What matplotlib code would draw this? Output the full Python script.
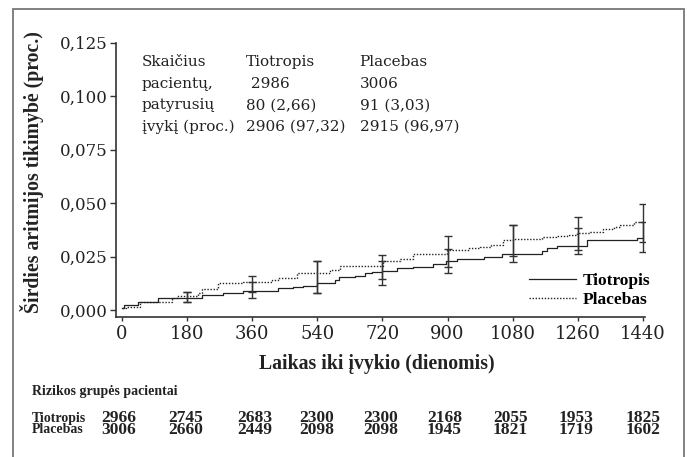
import matplotlib
matplotlib.use('Agg')
import matplotlib.pyplot as plt
from matplotlib.patches import Rectangle
import numpy as np

# Kaplan-Meier style step data (day, cumulative probability)
tio_days = [0, 5, 45, 100, 220, 280, 335, 432, 473, 500, 540, 589, 600, 644, 672, 690, 718, 759,
            805, 860, 895, 925, 1000, 1050, 1160, 1174, 1201, 1284, 1424, 1440]
tio_vals = [0.0010, 0.0026, 0.0040, 0.0055, 0.0070, 0.0081, 0.0090, 0.0101, 0.0109, 0.0112, 0.0128,
            0.0140, 0.0153, 0.0159, 0.0171, 0.0176, 0.0184, 0.0195, 0.0202, 0.0215, 0.0228, 0.0237,
            0.0250, 0.0262, 0.0277, 0.0289, 0.0300, 0.0328, 0.0335, 0.0335]

pla_days = [0, 10, 50, 138, 151, 210, 220, 265, 335, 414, 432, 483, 575, 602, 722, 768, 805, 897,
            930, 960, 990, 1020, 1053, 1081, 1160, 1200, 1230, 1257, 1294, 1330, 1360, 1376, 1415, 1440]
pla_vals = [0.0008, 0.0015, 0.0039, 0.0055, 0.0065, 0.0078, 0.0097, 0.0125, 0.0132, 0.0140, 0.0151,
            0.0172, 0.0187, 0.0206, 0.0230, 0.0237, 0.0260, 0.0280, 0.0283, 0.0288, 0.0296, 0.0305,
            0.0327, 0.0333, 0.0340, 0.0345, 0.0351, 0.0358, 0.0366, 0.0378, 0.0390, 0.0400, 0.0412,
            0.0412]

# confidence intervals at the marked days
ci_days = [180, 360, 540, 720, 900, 1080, 1260, 1440]
tio_lo = [0.0040, 0.0055, 0.0082, 0.0117, 0.0171, 0.0223, 0.0260, 0.0270]
tio_hi = [0.0086, 0.0132, 0.0230, 0.0230, 0.0284, 0.0397, 0.0382, 0.0410]
pla_lo = [0.0040, 0.0083, 0.0082, 0.0143, 0.0202, 0.0255, 0.0280, 0.0320]
pla_hi = [0.0086, 0.0160, 0.0230, 0.0259, 0.0347, 0.0397, 0.0436, 0.0495]

xticks = [0, 180, 360, 540, 720, 900, 1080, 1260, 1440]
yticks = [0.0, 0.025, 0.05, 0.075, 0.1, 0.125]
ytick_labels = ['0,000', '0,025', '0,050', '0,075', '0,100', '0,125']

# text box in the upper left
info_rows = ['Skaičius', 'pacientų,', 'patyrusių', 'įvykį (proc.)']
info_tio = ['Tiotropis', ' 2986', '80 (2,66)', '2906 (97,32)']
info_pla = ['Placebas', '3006', '91 (3,03)', '2915 (96,97)']

# number at risk table
risk_groups = ['Tiotropis', 'Placebas']
risk_tio = [2966, 2745, 2683, 2300, 2300, 2168, 2055, 1953, 1825]
risk_pla = [3006, 2660, 2449, 2098, 2098, 1945, 1821, 1719, 1602]

W, H = 687, 457
fig = plt.figure(figsize=(W / 100, H / 100), dpi=100)
ax = fig.add_axes([116.2 / W, 1 - 316.7 / H, 528.6 / W, 274.0 / H])

serif = 'DejaVu Serif'
bold = 'Liberation Serif'
dark = '#222222'

ax.step(tio_days, tio_vals, where='post', color=dark, lw=0.9, label='Tiotropis')
ax.step(pla_days, pla_vals, where='post', color=dark, lw=1.0, ls=(0, (1, 1.2)), label='Placebas')

for lo, hi in [(tio_lo, tio_hi), (pla_lo, pla_hi)]:
    lo = np.array(lo)
    hi = np.array(hi)
    mid = (lo + hi) / 2
    ax.errorbar(ci_days, mid, yerr=[mid - lo, hi - mid], fmt='none', ecolor='#333333',
                elinewidth=1.0, capsize=2.6, capthick=1.0)

ax.set_xlim(-16, 1445)
ax.set_ylim(-0.0031, 0.125)
for s in ['top', 'right']:
    ax.spines[s].set_visible(False)
for s in ['left', 'bottom']:
    ax.spines[s].set_linewidth(1.2)
    ax.spines[s].set_color('#333333')

ax.set_xticks(xticks)
ax.set_xticklabels([str(t) for t in xticks], fontfamily=serif, fontsize=13)
ax.set_yticks(yticks)
ax.set_yticklabels(ytick_labels, fontfamily=serif, fontsize=12)
ax.tick_params(axis='y', length=4, width=1, pad=2, color='#333333', labelcolor='#222222')
ax.tick_params(axis='x', length=3, width=1, pad=3, color='#333333', labelcolor='#222222')

# upper-left text block
row_y = [66, 88, 109.5, 131]
for i in range(len(info_rows)):
    y = 1 - row_y[i] / H
    fig.text(141.5 / W, y, info_rows[i], fontfamily=serif, fontsize=11, color='#222222', va='baseline')
    fig.text(246 / W, y, info_tio[i], fontfamily=serif, fontsize=11, color='#222222', va='baseline')
    fig.text(359.5 / W, y, info_pla[i], fontfamily=serif, fontsize=11, color='#222222', va='baseline')

leg = ax.legend(loc='lower right', bbox_to_anchor=(650 / W, 1 - 308 / H), bbox_transform=fig.transFigure,
                frameon=False, borderpad=0, borderaxespad=0, handlelength=2.7, handletextpad=0.35,
                labelspacing=0.15, prop={'family': bold, 'weight': 'bold', 'size': 12.5})

fig.text(32 / W, 1 - 172 / H, 'Širdies aritmijos tikimybė (proc.)', rotation=90, ha='center', va='center',
         fontfamily=bold, fontweight='bold', fontsize=14.2, color='#222222')
fig.text(376.5 / W, 1 - 364 / H, 'Laikas iki įvykio (dienomis)', ha='center', va='center',
         fontfamily=bold, fontweight='bold', fontsize=14.2, color='#222222')

# number at risk
fig.text(32 / W, 1 - 392 / H, 'Rizikos grupės pacientai', ha='left', va='center',
         fontfamily=bold, fontweight='bold', fontsize=10, color='#222222')
col_x = [101.7, 168, 237, 299, 363, 427, 493, 559, 626]
fig.text(32 / W, 1 - 424 / H, '\n'.join(risk_groups), ha='left', va='center', linespacing=0.78,
         fontfamily=bold, fontweight='bold', fontsize=10, color='#222222')
for x, a, b in zip(col_x, risk_tio, risk_pla):
    fig.text(x / W, 1 - 424 / H, f'{a}\n{b}', ha='left', va='center', linespacing=0.62,
             fontfamily=bold, fontweight='bold', fontsize=12.5, color='#222222')

# outer frame (open at the bottom)
fig.add_artist(Rectangle((13 / W, -0.05), (684 - 13) / W, 0.05 + 1 - 9.5 / H, transform=fig.transFigure,
                         fill=False, edgecolor='#777777', lw=1.3))

fig.savefig('out.png', dpi=100)
